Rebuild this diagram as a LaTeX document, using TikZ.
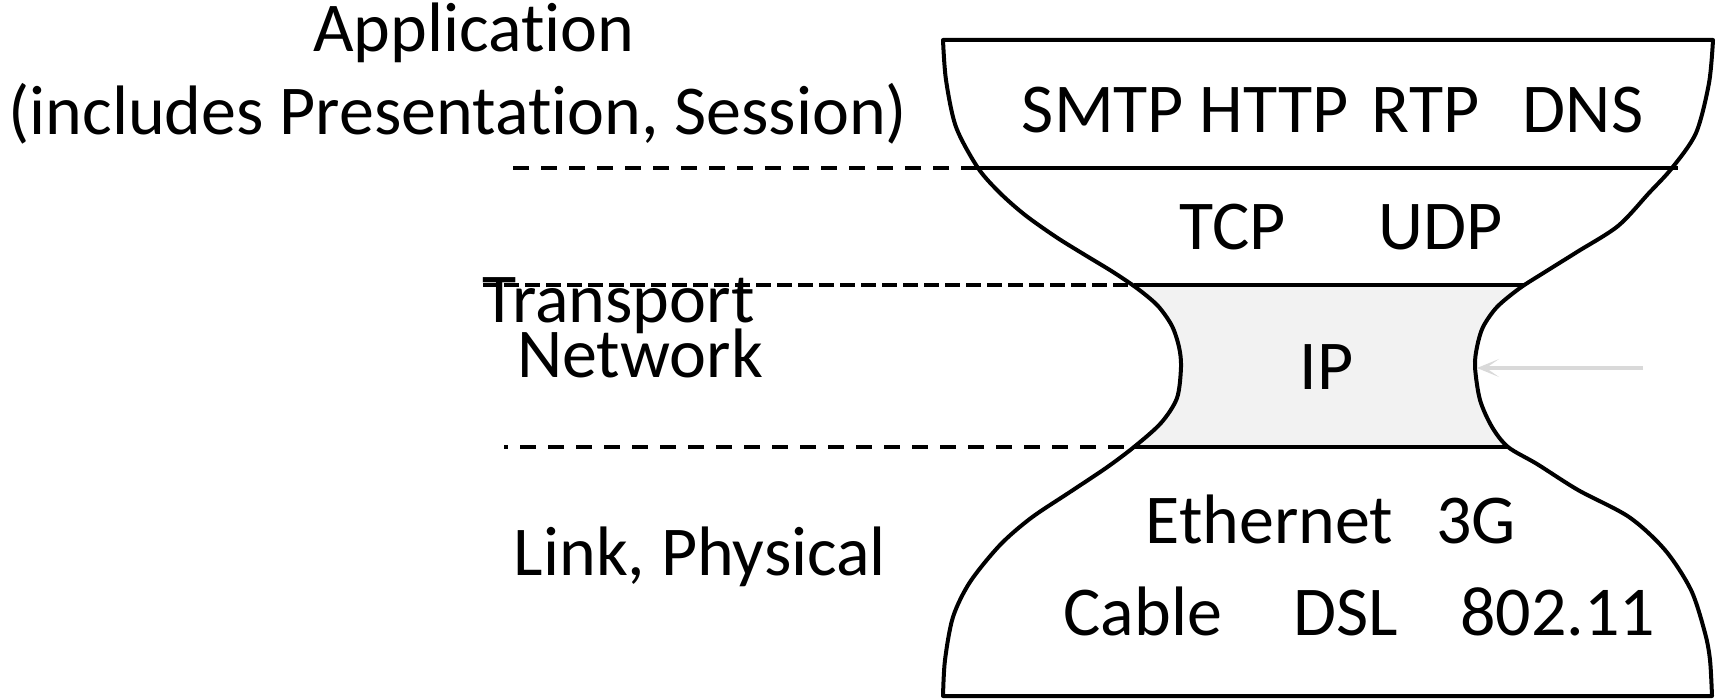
\documentclass[tikz,border=0pt]{standalone}
\usepackage{fontspec}
\setmainfont[Ligatures=NoCommon]{Carlito}
\usetikzlibrary{arrows.meta}
\definecolor{ipgray}{HTML}{F2F2F2}
\definecolor{pointer}{HTML}{D9D9D9}
\begin{document}
\begin{tikzpicture}[x=1pt,y=-1pt,
  lbl/.style={font=\fontsize{70}{84}\selectfont, inner sep=0pt, anchor=base},
  rim/.style={line width=4pt, line join=round},
  divider/.style={line width=4pt},
  guide/.style={line width=3.8pt, dash pattern=on 16pt off 12pt},
  fineguide/.style={line width=3.8pt, dash pattern=on 15pt off 6pt},
  pointerarrow/.style={draw=pointer, line width=4.2pt,
    -{Stealth[length=22pt,width=18pt,inset=13pt]}}]
\useasboundingbox (0,0) rectangle (1716,700);

% hourglass outline: left flank downwards, bottom edge, right flank upwards, top edge
\path[save path=\hourglass]
  plot[smooth,tension=0.5] coordinates {
    (943,40) (946,80) (956,127) (978,168) (1000,193) (1025,215) (1056,237)
    (1085,255) (1113,272) (1138,289) (1158,306) (1172,326) (1179,347) (1181,367)
    (1177,398) (1161,423) (1134,447) (1106,468) (1070,492) (1031,518) (1000,545)
    (970,582) (953,617) (945,660) (943,696)}
  -- plot[smooth,tension=0.5] coordinates {
    (1712,696) (1710,660) (1705,633) (1691,590) (1665,550) (1629,517) (1578,490)
    (1537,464) (1508,447) (1492,427) (1480,400) (1475,367) (1477,347) (1483,327)
    (1497,307) (1520,288) (1545,272) (1577,252) (1618,226) (1649,193) (1672,168)
    (1696,133) (1709,83) (1713,40)}
  -- cycle;

% shaded network (IP) band
\begin{scope}
  \clip (0,285) rectangle (1716,447);
  \path[fill=ipgray, use path=\hourglass];
\end{scope}
\path[draw, rim, use path=\hourglass];

% layer boundaries
\coordinate (appG) at (513,168);
\coordinate (appL) at (978,168);
\coordinate (appR) at (1678,168);
\coordinate (trG) at (483,285);
\coordinate (trL) at (1134,285);
\coordinate (trR) at (1524,285);
\coordinate (netG) at (504,447);
\coordinate (netL) at (1134,447);
\coordinate (netR) at (1508,447);

\draw[divider] (appL) -- (appR);
\draw[divider] (trL) -- (trR);
\draw[divider] (netL) -- (netR);
\draw[guide] (appG) -- (appL);
\draw[fineguide] (trG) -- (trL);
\draw[guide, dash phase=12pt] (netG) -- (netL);

% pointer to the IP waist
\coordinate (tail) at (1643,368);
\coordinate (waist) at (1477,368);
\draw[pointerarrow] (tail) -- (waist);

% layer names
\node[lbl] (app) at (474,52) {Application};
\node[lbl] (appsub) at (458,135) {(includes Presentation, Session)};
\node[lbl] (transport) at (618.5,323) {Transport};
\node[lbl] (network) at (640,378) {Network};
\node[lbl] (linkphys) at (700,575) {Link, Physical};

% protocols
\node[lbl] (smtp) at (1103,133) {SMTP};
\node[lbl] (http) at (1274,133) {HTTP};
\node[lbl] (rtp) at (1425.6,133) {RTP};
\node[lbl] (dns) at (1583,133) {DNS};
\node[lbl] (tcp) at (1233,250) {TCP};
\node[lbl] (udp) at (1441,250) {UDP};
\node[lbl] (ip) at (1326.5,390) {IP};
\node[lbl] (ethernet) at (1269.5,543) {Ethernet};
\node[lbl] (threeg) at (1476.3,543) {3G};
\node[lbl] (cable) at (1142.8,635) {Cable};
\node[lbl] (dsl) at (1345.5,635) {DSL};
\node[lbl] (wifi) at (1557.8,635) {802.11};
\end{tikzpicture}
\end{document}
